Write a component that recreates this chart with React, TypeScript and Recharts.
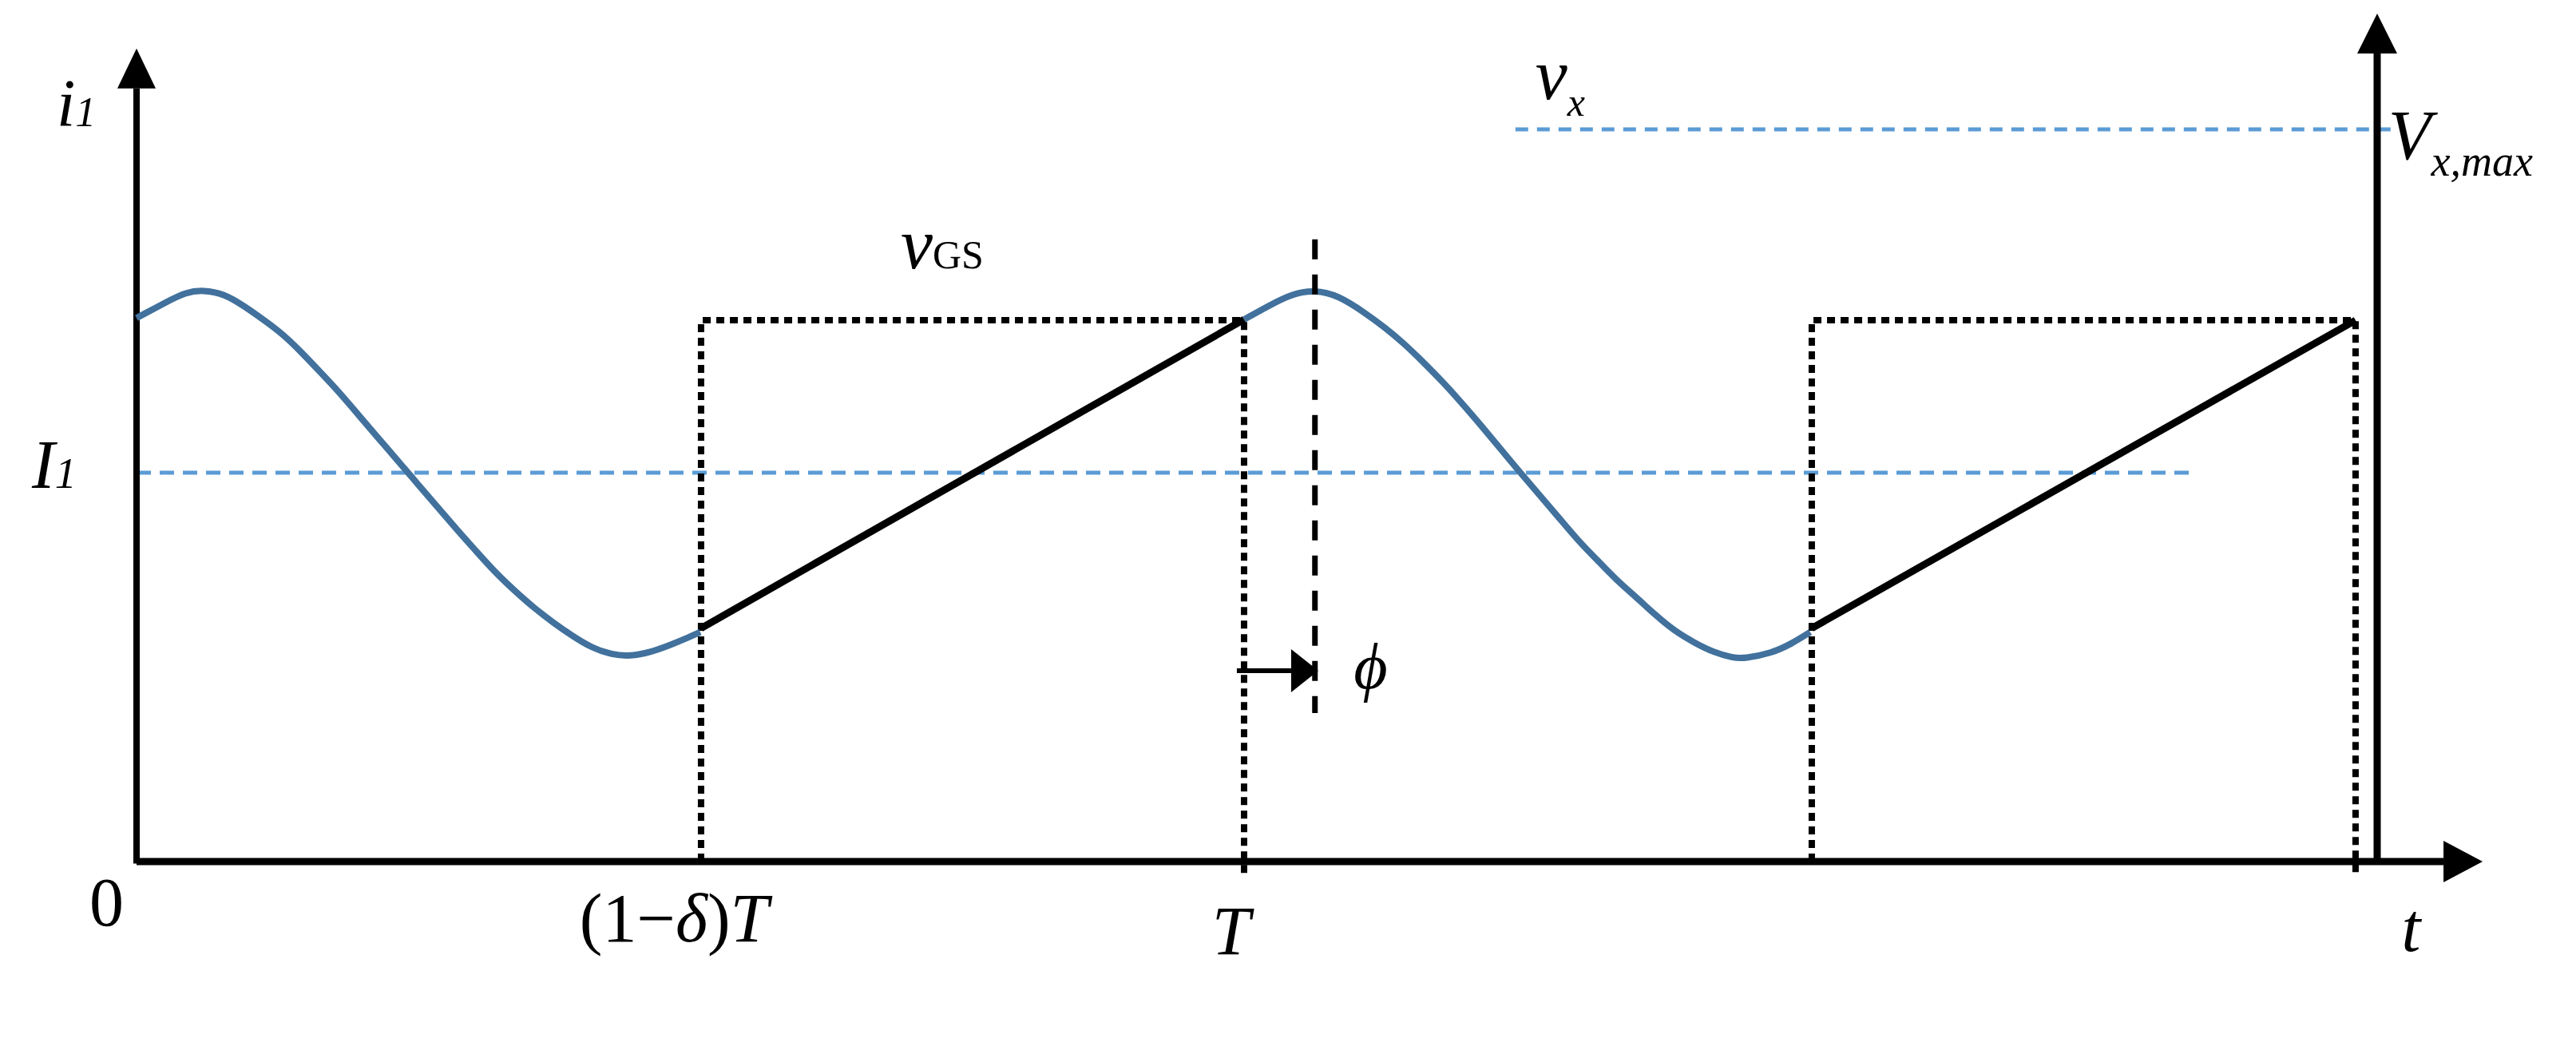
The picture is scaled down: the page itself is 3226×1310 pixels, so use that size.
import React from 'react';
import { LineChart, Line, XAxis, YAxis, ReferenceDot } from 'recharts';

// time axis: T = 1 ; current axis: I1 = 1
const currentPart1 = [
  { x: 0, y: 1.398 }, { x: 0.027, y: 1.439 }, { x: 0.0445, y: 1.464 }, { x: 0.0602, y: 1.47 },
  { x: 0.0793, y: 1.46 }, { x: 0.0969, y: 1.429 }, { x: 0.1143, y: 1.394 }, { x: 0.1319, y: 1.357 },
  { x: 0.1492, y: 1.309 }, { x: 0.1665, y: 1.257 }, { x: 0.1843, y: 1.203 }, { x: 0.2017, y: 1.144 },
  { x: 0.2192, y: 1.086 }, { x: 0.2365, y: 1.029 }, { x: 0.2541, y: 0.97 }, { x: 0.2717, y: 0.912 },
  { x: 0.2891, y: 0.854 }, { x: 0.3064, y: 0.799 }, { x: 0.3237, y: 0.744 }, { x: 0.3415, y: 0.696 },
  { x: 0.359, y: 0.652 }, { x: 0.3764, y: 0.614 }, { x: 0.3937, y: 0.58 }, { x: 0.4114, y: 0.549 },
  { x: 0.429, y: 0.532 }, { x: 0.4463, y: 0.528 }, { x: 0.4636, y: 0.538 }, { x: 0.4813, y: 0.556 },
  { x: 0.4989, y: 0.577 }, { x: 0.509, y: 0.59 },
];
const currentPart2 = [
  { x: 1.0, y: 1.394 }, { x: 1.022, y: 1.429 }, { x: 1.043, y: 1.46 }, { x: 1.0639, y: 1.47 },
  { x: 1.0849, y: 1.456 }, { x: 1.1093, y: 1.411 }, { x: 1.1268, y: 1.374 }, { x: 1.1442, y: 1.333 },
  { x: 1.1615, y: 1.285 }, { x: 1.1792, y: 1.234 }, { x: 1.1967, y: 1.179 }, { x: 1.2141, y: 1.121 },
  { x: 1.2314, y: 1.062 }, { x: 1.2491, y: 1.001 }, { x: 1.2666, y: 0.943 }, { x: 1.2841, y: 0.885 },
  { x: 1.3014, y: 0.826 }, { x: 1.319, y: 0.775 }, { x: 1.3365, y: 0.723 }, { x: 1.354, y: 0.68 },
  { x: 1.3713, y: 0.634 }, { x: 1.3886, y: 0.593 }, { x: 1.4064, y: 0.563 }, { x: 1.424, y: 0.538 },
  { x: 1.4413, y: 0.524 }, { x: 1.4518, y: 0.522 }, { x: 1.4763, y: 0.536 }, { x: 1.4937, y: 0.559 },
  { x: 1.5112, y: 0.59 },
];
const rampPart1 = [{ x: 0.5097, y: 0.6 }, { x: 1.0, y: 1.394 }];
const rampPart2 = [{ x: 1.5126, y: 0.6 }, { x: 2.0036, y: 1.392 }];
const gatePulse1 = [{ x: 0.5097, y: 0 }, { x: 0.5097, y: 1.392 }, { x: 1.0, y: 1.392 }, { x: 1.0, y: -0.031 }];
const gatePulse2 = [{ x: 1.5126, y: 0 }, { x: 1.5126, y: 1.392 }, { x: 2.0036, y: 1.392 }, { x: 2.0036, y: -0.031 }];
const meanCurrent = [{ x: 0, y: 1.0 }, { x: 1.856, y: 1.0 }];
const vxMaxLevel = [{ x: 1.245, y: 1.883 }, { x: 2.036, y: 1.883 }];
const phaseMarker = [{ x: 1.064, y: 1.6 }, { x: 1.064, y: 0.382 }];
const phaseArrow = [{ x: 0.9935, y: 0.491 }, { x: 1.0425, y: 0.491 }];
const leftAxis = [{ x: 0, y: -0.005 }, { x: 0, y: 1.988 }];
const rightAxis = [{ x: 2.0231, y: -0.005 }, { x: 2.0231, y: 2.078 }];
const timeAxis = [{ x: 0, y: 0 }, { x: 2.083, y: 0 }];

const arrowHeads = [
  { x: 0, y: 1.988, dir: 'up', len: 50, half: 24 },
  { x: 2.0231, y: 2.078, dir: 'up', len: 50, half: 25 },
  { x: 2.083, y: 0, dir: 'right', len: 49, half: 26 },
  { x: 1.0425, y: 0.491, dir: 'right', len: 34, half: 27 },
];

const textLabels = [
  { x: -0.0721, y: 1.891, main: 'i', sub: '1', mainSize: 84, subSize: 52, subDy: 0, subItalic: true },
  { x: -0.0944, y: 0.961, main: 'I', sub: '1', mainSize: 86, subSize: 54, subDy: 0, subItalic: true },
  { x: 0.69, y: 1.526, main: 'v', sub: 'GS', mainSize: 90, subSize: 50, subDy: 0, subItalic: false },
  { x: 1.263, y: 1.961, main: 'v', sub: 'x', mainSize: 90, subSize: 50, subDy: 21, subItalic: true },
  { x: 2.033, y: 1.807, main: 'V', sub: 'x,max', mainSize: 88, subSize: 54, subDy: 21, subItalic: true },
  { x: 1.099, y: 0.446, main: '\u03D5', sub: '', mainSize: 82, subSize: 50, subDy: 0, subItalic: true },
  { x: 0.971, y: -0.238, main: 'T', sub: '', mainSize: 86, subSize: 50, subDy: 0, subItalic: true },
  { x: 2.045, y: -0.23, main: 't', sub: '', mainSize: 86, subSize: 50, subDy: 0, subItalic: true },
];
const zeroLabel = { x: -0.0425, y: -0.164, text: '0' };
const dutyLabel = { x: 0.4, y: -0.205, parts: ['(1\u2212', '\u03B4', ')', 'T'] };

const FONT = '"Liberation Serif", "DejaVu Serif", serif';
const BLUE = '#41719C';
const LIGHT_BLUE = '#5B9BD5';

function ArrowHead(props: any) {
  const { cx, cy, dir, len, half } = props;
  if (cx == null || cy == null) return <g />;
  const pts =
    dir === 'up'
      ? `${cx - half},${cy} ${cx + half},${cy} ${cx},${cy - len}`
      : `${cx},${cy - half} ${cx},${cy + half} ${cx + len},${cy}`;
  return <polygon points={pts} fill="#000" />;
}

export default function App() {
  return (
    <div style={{ position: 'absolute', left: 0, top: 0, width: 3226, height: 1310, background: '#fff' }}>
      <LineChart
        width={3226}
        height={1310}
        margin={{ top: 7.6, right: 114.6, bottom: 182.3, left: 32.3 }}
      >
        <XAxis type="number" dataKey="x" domain={[-0.1, 2.12]} allowDataOverflow hide />
        <YAxis type="number" dataKey="y" domain={[-0.1, 2.2]} allowDataOverflow hide />

        <Line data={meanCurrent} dataKey="y" type="linear" stroke={LIGHT_BLUE} strokeWidth={5}
          strokeDasharray="18 11" dot={false} activeDot={false} isAnimationActive={false} />
        <Line data={vxMaxLevel} dataKey="y" type="linear" stroke={LIGHT_BLUE} strokeWidth={5}
          strokeDasharray="16 11" dot={false} activeDot={false} isAnimationActive={false} />

        <Line data={gatePulse1} dataKey="y" type="linear" stroke="#000" strokeWidth={8}
          strokeDasharray="10 7" dot={false} activeDot={false} isAnimationActive={false} />
        <Line data={gatePulse2} dataKey="y" type="linear" stroke="#000" strokeWidth={8}
          strokeDasharray="10 7" dot={false} activeDot={false} isAnimationActive={false} />

        <Line data={leftAxis} dataKey="y" type="linear" stroke="#000" strokeWidth={8}
          dot={false} activeDot={false} isAnimationActive={false} />
        <Line data={rightAxis} dataKey="y" type="linear" stroke="#000" strokeWidth={9}
          dot={false} activeDot={false} isAnimationActive={false} />
        <Line data={timeAxis} dataKey="y" type="linear" stroke="#000" strokeWidth={9}
          dot={false} activeDot={false} isAnimationActive={false} />

        <Line data={currentPart1} dataKey="y" type="basis" stroke={BLUE} strokeWidth={8}
          dot={false} activeDot={false} isAnimationActive={false} />
        <Line data={currentPart2} dataKey="y" type="basis" stroke={BLUE} strokeWidth={8}
          dot={false} activeDot={false} isAnimationActive={false} />
        <Line data={rampPart1} dataKey="y" type="linear" stroke="#000" strokeWidth={9}
          dot={false} activeDot={false} isAnimationActive={false} />
        <Line data={rampPart2} dataKey="y" type="linear" stroke="#000" strokeWidth={9}
          dot={false} activeDot={false} isAnimationActive={false} />

        <Line data={phaseMarker} dataKey="y" type="linear" stroke="#000" strokeWidth={7}
          strokeDasharray="25 19" dot={false} activeDot={false} isAnimationActive={false} />
        <Line data={phaseArrow} dataKey="y" type="linear" stroke="#000" strokeWidth={6}
          dot={false} activeDot={false} isAnimationActive={false} />

        {arrowHeads.map((a, i) => (
          <ReferenceDot key={`ah${i}`} x={a.x} y={a.y} ifOverflow="visible"
            shape={(p: any) => <ArrowHead cx={p.cx} cy={p.cy} dir={a.dir} len={a.len} half={a.half} />} />
        ))}

        {textLabels.map((l, i) => (
          <ReferenceDot key={`tl${i}`} x={l.x} y={l.y} ifOverflow="visible"
            shape={(p: any) => (
              <text x={p.cx} y={p.cy} fontFamily={FONT} fill="#000">
                <tspan fontStyle="italic" fontSize={l.mainSize}>{l.main}</tspan>
                {l.sub ? (
                  <tspan fontStyle={l.subItalic ? 'italic' : 'normal'} fontSize={l.subSize} dy={l.subDy}>{l.sub}</tspan>
                ) : null}
              </text>
            )} />
        ))}

        <ReferenceDot x={zeroLabel.x} y={zeroLabel.y} ifOverflow="visible"
          shape={(p: any) => (
            <text x={p.cx} y={p.cy} fontFamily={FONT} fontSize={86} fill="#000">{zeroLabel.text}</text>
          )} />
        <ReferenceDot x={dutyLabel.x} y={dutyLabel.y} ifOverflow="visible"
          shape={(p: any) => (
            <text x={p.cx} y={p.cy} fontFamily={FONT} fontSize={86} fill="#000">
              <tspan>{dutyLabel.parts[0]}</tspan>
              <tspan fontStyle="italic">{dutyLabel.parts[1]}</tspan>
              <tspan>{dutyLabel.parts[2]}</tspan>
              <tspan fontStyle="italic">{dutyLabel.parts[3]}</tspan>
            </text>
          )} />
      </LineChart>
    </div>
  );
}
